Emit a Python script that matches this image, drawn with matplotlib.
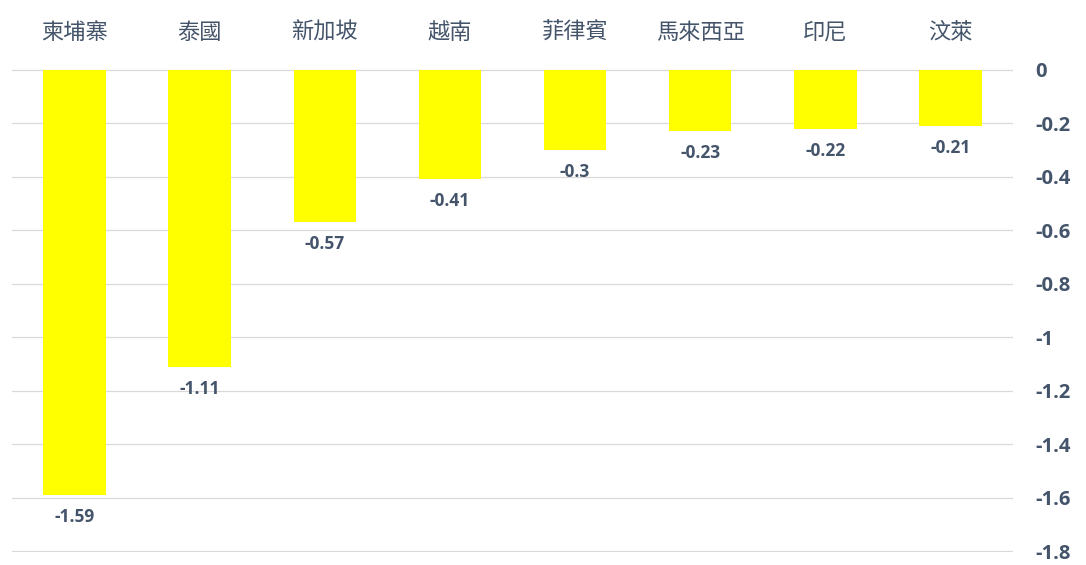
import matplotlib.pyplot as plt
import numpy as np

# data
countries = ['柬埔寨', '泰國', '新加坡', '越南', '菲律賓', '馬來西亞', '印尼', '汶萊']
values = [-1.59, -1.11, -0.57, -0.41, -0.3, -0.23, -0.22, -0.21]
value_labels = ['-1.59', '-1.11', '-0.57', '-0.41', '-0.3', '-0.23', '-0.22', '-0.21']
yticks = [0, -0.2, -0.4, -0.6, -0.8, -1, -1.2, -1.4, -1.6, -1.8]
ytick_labels = ['0', '-0.2', '-0.4', '-0.6', '-0.8', '-1', '-1.2', '-1.4', '-1.6', '-1.8']

text_color = '#44546A'
num_font = ['Open Sans', 'DejaVu Sans']

fig = plt.figure(figsize=(10.86, 5.65), dpi=100)
ax = fig.add_axes([12 / 1086, 13 / 565, 1001 / 1086, 483 / 565])

x = np.arange(len(countries))
bars = ax.bar(x, values, width=0.5, color='#FFFF00', zorder=2)

for xi, v, lab in zip(x, values, value_labels):
    ax.annotate(lab, (xi, v), xytext=(0, -22), textcoords='offset pixels',
                ha='center', va='center', fontsize=12.5, fontweight='bold',
                color=text_color, family=num_font)

ax.set_xlim(-0.5, len(countries) - 0.5)
ax.set_ylim(-1.803, 0.003)

ax.xaxis.tick_top()
ax.set_xticks(x)
ax.set_xticklabels(countries, fontsize=16, color=text_color,
                   family=['Noto Sans CJK TC', 'DejaVu Sans'])

ax.yaxis.tick_right()
ax.set_yticks(yticks)
ax.set_yticklabels(ytick_labels, fontsize=14.5, fontweight='bold', color=text_color,
                   family=num_font)

ax.tick_params(axis='x', length=0, pad=18)
ax.tick_params(axis='y', length=0, pad=16)

ax.grid(axis='y', color='#D9D9D9', linewidth=0.9, zorder=0)
for s in ax.spines.values():
    s.set_visible(False)

fig.savefig('out.png', dpi=100)
